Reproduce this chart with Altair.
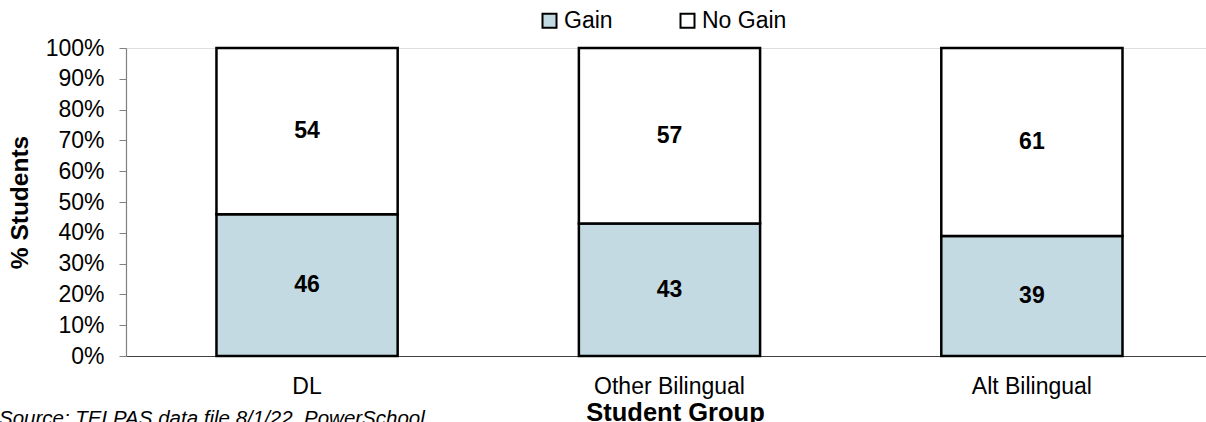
import altair as alt
import pandas as pd

groups = ["DL", "Other Bilingual", "Alt Bilingual"]
gain = [46, 43, 39]
no_gain = [54, 57, 61]
series = ["Gain", "No Gain"]
y_ticks = list(range(0, 101, 10))

rows = []
for g, a, b in zip(groups, gain, no_gain):
    rows.append({"group": g, "status": "Gain", "value": a, "ord": 0})
    rows.append({"group": g, "status": "No Gain", "value": b, "ord": 1})
df = pd.DataFrame(rows)

FONT = "Liberation Sans"

x_axis = alt.Axis(
    title="Student Group",
    titleFont=FONT, titleFontSize=25.5, titleFontWeight="bold", titleColor="black",
    titleX=549, titleY=64, titleBaseline="alphabetic", titleAnchor="start",
    titleAlign="center",
    labelFont=FONT, labelFontSize=23, labelColor="black", labelAngle=0,
    labelBaseline="alphabetic", labelPadding=37, labelOverlap=False,
    tickSize=0, domainColor="#404040", domainWidth=1.2,
)
x_scale = alt.Scale(paddingInner=0.5, paddingOuter=0.24, align=0.52)

y_axis = alt.Axis(
    title="% Students",
    titleFont=FONT, titleFontSize=24.5, titleFontWeight="bold", titleColor="black",
    titleAngle=270, titleX=-99, titleY=154, titleBaseline="alphabetic",
    titleAlign="center",
    values=y_ticks, labelExpr="datum.value + '%'", labelOverlap=False,
    labelFont=FONT, labelFontSize=23, labelColor="black", labelPadding=15,
    labelBaseline="middle",
    tickSize=7, tickColor="#808080", domainColor="#808080", domainWidth=1.2,
    grid=False,
)
y_scale = alt.Scale(domain=[0, 100], nice=False)

bars = alt.Chart(df).mark_bar(stroke="black", strokeWidth=2.5).encode(
    x=alt.X("group:N", sort=groups, scale=x_scale, axis=x_axis),
    y=alt.Y("value:Q", stack="zero", scale=y_scale, axis=y_axis),
    color=alt.Color(
        "status:N",
        scale=alt.Scale(domain=series, range=["#C3DAE3", "#FFFFFF"]),
        legend=alt.Legend(
            title=None, orient="none", direction="horizontal",
            legendX=412, legendY=-39, padding=0,
            symbolType="square", symbolSize=196, symbolStrokeColor="black",
            symbolStrokeWidth=2, symbolOpacity=1,
            labelFont=FONT, labelFontSize=23, labelColor="black",
            labelOffset=3, columnPadding=63,
        ),
    ),
    order=alt.Order("ord:Q"),
)

labels = alt.Chart(df).mark_text(
    font=FONT, fontSize=23, fontWeight="bold", color="black", baseline="middle"
).encode(
    x=alt.X("group:N", sort=groups, scale=x_scale, axis=x_axis),
    y=alt.Y("value:Q", stack="zero", bandPosition=0.5, scale=y_scale, axis=y_axis),
    detail="status:N",
    text="value:Q",
    order=alt.Order("ord:Q"),
)

source = alt.Chart(pd.DataFrame({"t": ["Source: TELPAS data file 8/1/22, PowerSchool"]})).mark_text(
    font=FONT, fontSize=20.5, fontStyle="italic", color="black",
    align="left", baseline="alphabetic",
).encode(
    x=alt.value(-127),
    y=alt.value(377),
    text="t:N",
)

chart = alt.layer(bars, labels, source).properties(
    width=1080,
    height=308,
    padding={"left": 126, "top": 48, "right": 0, "bottom": 66},
    autosize=alt.AutoSizeParams(type="none"),
).configure_view(stroke=None).configure(background="white")

chart.save("out.html", embed_options={"renderer": "svg", "actions": False})
